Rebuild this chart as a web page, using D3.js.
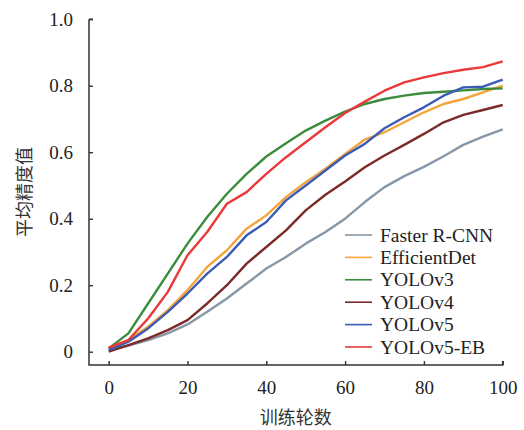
<!DOCTYPE html>
<html>
<head>
<meta charset="utf-8">
<script src="https://cdn.jsdelivr.net/npm/d3@7"></script>
<style>
  html, body { margin: 0; padding: 0; background: #fff; }
  svg { display: block; }
</style>
</head>
<body>
<div id="chart"></div>
<script>
// 训练轮数（每5轮读一次）
const epochs = [0, 5, 10, 15, 20, 25, 30, 35, 40, 45, 50, 55, 60, 65, 70, 75, 80, 85, 90, 95, 100]
const seriesNames = ['Faster R-CNN', 'EfficientDet', 'YOLOv3', 'YOLOv4', 'YOLOv5', 'YOLOv5-EB']
const fasterRcnn = [0.005, 0.018, 0.035, 0.055, 0.082, 0.12, 0.16, 0.205, 0.25, 0.285, 0.325, 0.36, 0.4, 0.45, 0.495, 0.528, 0.556, 0.588, 0.622, 0.647, 0.669]
const efficientDet = [0.01, 0.035, 0.075, 0.125, 0.185, 0.255, 0.305, 0.37, 0.41, 0.465, 0.51, 0.55, 0.595, 0.638, 0.66, 0.69, 0.72, 0.745, 0.76, 0.78, 0.8]
const yolov3 = [0.01, 0.055, 0.145, 0.235, 0.325, 0.405, 0.475, 0.535, 0.587, 0.627, 0.665, 0.695, 0.722, 0.745, 0.76, 0.77, 0.778, 0.782, 0.786, 0.79, 0.792]
const yolov4 = [0.0, 0.02, 0.04, 0.065, 0.095, 0.145, 0.2, 0.265, 0.315, 0.365, 0.425, 0.472, 0.512, 0.555, 0.59, 0.622, 0.655, 0.69, 0.712, 0.727, 0.742]
const yolov5 = [0.005, 0.03, 0.07, 0.12, 0.175, 0.235, 0.285, 0.35, 0.39, 0.455, 0.5, 0.545, 0.59, 0.625, 0.672, 0.705, 0.735, 0.77, 0.795, 0.797, 0.818]
const yolov5eb = [0.012, 0.035, 0.1, 0.18, 0.29, 0.36, 0.445, 0.48, 0.535, 0.585, 0.63, 0.675, 0.718, 0.752, 0.785, 0.81, 0.825, 0.838, 0.848, 0.856, 0.873]
const xTicks = [0, 20, 40, 60, 80, 100]
const yTicks = [0, 0.2, 0.4, 0.6, 0.8, 1.0]

const colors = ['#8797a6', '#f5a43c', '#3d8c3d', '#7b2a2a', '#3a5cb5', '#e9393a']
const allSeries = [fasterRcnn, efficientDet, yolov3, yolov4, yolov5, yolov5eb]

const width = 524
const height = 430
const svg = d3.select('#chart').append('svg')
    .attr('width', width)
    .attr('height', height)

const serif = '"Liberation Serif", "Times New Roman", serif'
const cjk = '"Noto Sans CJK SC", sans-serif'

const x = d3.scaleLinear().domain([0, 100]).range([108.7, 502.7])
const y = d3.scaleLinear().domain([0, 1]).range([351.7, 19.2])

// 坐标轴位置（轴线比数据范围稍大）
const axisX0 = 89
const axisY0 = 365

const xAxis = svg.append('g')
    .attr('transform', `translate(0, ${axisY0})`)
    .call(d3.axisBottom(x).tickValues(xTicks).tickSizeInner(-4).tickSizeOuter(0).tickPadding(16))
xAxis.select('.domain').remove()

const yAxis = svg.append('g')
    .attr('transform', `translate(${axisX0}, 0)`)
    .call(d3.axisLeft(y).tickValues(yTicks).tickSizeInner(-4).tickSizeOuter(0).tickPadding(16)
        .tickFormat(d => d === 0 ? '0' : d3.format('.1f')(d)))
yAxis.select('.domain').remove()

svg.selectAll('.tick line').attr('stroke', '#333').attr('stroke-width', 1.4)
svg.selectAll('.tick text')
    .attr('fill', '#222')
    .style('font-family', serif)
    .style('font-size', '19px')

// 轴线
svg.append('path')
    .attr('d', `M${axisX0},${y(1)}V${axisY0}H${x(100)}V${axisY0 - 4}`)
    .attr('fill', 'none')
    .attr('stroke', '#333')
    .attr('stroke-width', 1.5)
svg.append('line')
    .attr('x1', axisX0).attr('x2', axisX0 + 4)
    .attr('y1', y(1)).attr('y2', y(1))
    .attr('stroke', '#333').attr('stroke-width', 1.5)

const line = d3.line()
    .x((d, i) => x(epochs[i]))
    .y(d => y(d))

svg.append('g')
    .selectAll('path')
    .data(allSeries)
    .join('path')
    .attr('d', d => line(d))
    .attr('fill', 'none')
    .attr('stroke', (d, i) => colors[i])
    .attr('stroke-width', 2.4)
    .attr('stroke-linejoin', 'round')

// 图例
const legend = svg.append('g')
    .selectAll('g')
    .data(seriesNames)
    .join('g')
    .attr('transform', (d, i) => `translate(345, ${235 + i * 22.4})`)
legend.append('line')
    .attr('x1', 0).attr('x2', 27)
    .attr('stroke', (d, i) => colors[i])
    .attr('stroke-width', 1.6)
legend.append('text')
    .attr('x', 35)
    .attr('dy', '0.34em')
    .attr('fill', '#222')
    .style('font-family', serif)
    .style('font-size', '19.5px')
    .text(d => d)

// 轴标题
svg.append('text')
    .attr('x', (axisX0 + x(100)) / 2)
    .attr('y', 424)
    .attr('text-anchor', 'middle')
    .attr('fill', '#333')
    .style('font-family', cjk)
    .style('font-size', '18px')
    .text('训练轮数')

svg.append('text')
    .attr('transform', 'translate(25, 192) rotate(-90)')
    .attr('text-anchor', 'middle')
    .attr('dy', '0.35em')
    .attr('fill', '#333')
    .style('font-family', cjk)
    .style('font-size', '18px')
    .text('平均精度值')
</script>
</body>
</html>
